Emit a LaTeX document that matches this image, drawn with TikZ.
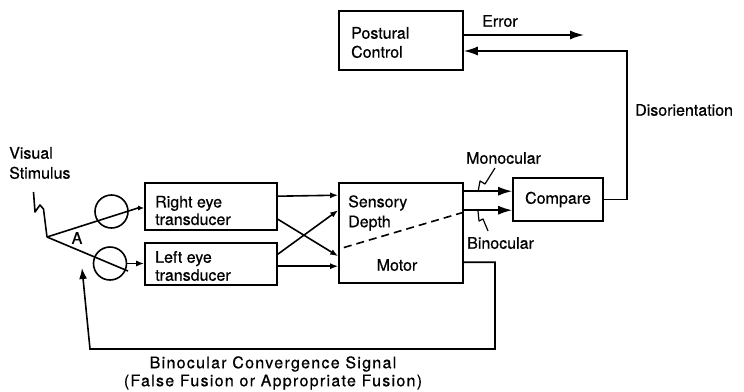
\documentclass[tikz,border=0pt]{standalone}
\usepackage{fontspec}
\setmainfont{TeX Gyre Heros}
\usetikzlibrary{arrows.meta,calc}
\newcommand{\diagfont}[2]{\fontsize{#1}{#2}\selectfont\addfontfeature{FakeBold=0.6}}
\begin{document}
\begin{tikzpicture}[x=1pt,y=-1pt,
  box/.style={draw,line width=1.6pt,inner sep=0pt,font=\diagfont{16}{19}},
  lbl/.style={font=\diagfont{16}{19},inner sep=0pt},
  wire/.style={line width=1.6pt},
  thinwire/.style={line width=1.2pt},
  bigarr/.style={wire,-{Latex[length=14pt,width=9pt]}},
  smallarr/.style={wire,-{Latex[length=8pt,width=6pt]}},
  tinyarr/.style={wire,-{Latex[length=6pt,width=5pt]}},
  eye/.style={draw,circle,line width=1.6pt,minimum size=33pt,inner sep=0pt}
]
\useasboundingbox (0,0) rectangle (744,391);

% boxes
\node[box,minimum width=124pt,minimum height=59pt] (post) at (401,40.5) {};
\node[lbl,anchor=west,align=left] (postT) at (351,42.5) {Postural\\Control};
\node[box,minimum width=90pt,minimum height=43pt] (cmp) at (558,199.5) {Compare};
\node[box,minimum width=124pt,minimum height=100pt] (sens) at (401,233) {};
\node[lbl,anchor=west,align=left,font=\diagfont{16}{20}] (sensT) at (348,213) {Sensory\\Depth};
\node[lbl] (motorT) at (397,265) {Motor};
\node[box,minimum width=132pt,minimum height=47pt] (rt) at (211,206.5) {};
\node[lbl,anchor=west,align=left,font=\diagfont{16}{17.5}] (rtT) at (155,210.5) {Right eye\\transducer};
\node[box,minimum width=132pt,minimum height=42pt] (lt) at (211,264) {};
\node[lbl,anchor=west,align=left,font=\diagfont{16}{18}] (ltT) at (155,266) {Left eye\\transducer};

% eyes
\node[eye] (reye) at (111.5,211.5) {};
\node[eye] (leye) at (110,263.5) {};

% labels
\node[lbl,anchor=west,align=left,font=\diagfont{16}{20}] (vis) at (9,163) {Visual\\Stimulus};
\node[lbl] (A) at (77,238) {A};
\node[lbl,anchor=west] (err) at (482,21) {Error};
\node[lbl,anchor=west] (dis) at (635,110) {Disorientation};
\node[lbl,anchor=west] (mono) at (466,158) {Monocular};
\node[lbl,anchor=west] (bino) at (467,243) {Binocular};
\node[lbl,align=center,font=\diagfont{16}{18}\addfontfeature{LetterSpace=8}] (conv) at (273,373)
  {Binocular Convergence Signal\\(False Fusion or Appropriate Fusion)};

% stimulus and optic lines
\coordinate (apex) at (47,237);
\coordinate (rdot) at (138,208);
\coordinate (lend) at (128,271);
\draw[wire,line join=round] (33.5,192) -- (35,212) -- (40,205) -- (43.5,209) -- (apex);
\draw[wire] (apex) -- (rdot);
\draw[tinyarr] (rdot) -- (rdot -| rt.west);
\draw[wire] (apex) -- (lend);
\draw[smallarr] (leye.east) -- (leye.east -| lt.west);

% transducers to sensory
\draw[smallarr] ($(rt.north east)+(0,14)$) -- ($(sens.north west)+(0,13)$);
\draw[smallarr] ($(rt.north east)+(0,37)$) -- ($(sens.north west)+(0,74)$);
\draw[smallarr] ($(lt.north east)+(0,12)$) -- ($(sens.north west)+(0,28)$);
\draw[smallarr] ($(lt.north east)+(0,24)$) -- ($(sens.north west)+(0,84)$);

% dashed divider
\draw[wire,dash pattern=on 8pt off 5pt] ($(sens.north east)+(0,30)$) -- ($(sens.north west)+(0,67)$);

% to compare
\draw[bigarr] ($(sens.north east)+(0,9)$) -- ($(cmp.north west)+(0,14)$);
\draw[bigarr] ($(sens.north east)+(0,28)$) -- ($(cmp.north west)+(0,33)$);
\draw[thinwire,line join=round] (478,192) -- (480,181) -- (485,184) -- (495,168);
\draw[thinwire,line join=round] (478,211) -- (479,221) -- (483,219) -- (488,231);

% motor feedback
\coordinate (mr) at (495,349);
\coordinate (ml) at (90,349);
\coordinate (tip) at (82,268);
\draw[wire,-{Latex[length=11pt,width=8pt]}] ($(sens.north east)+(0,80)$) -| (mr) -- (ml) -- (tip);

% error and disorientation
\coordinate (errEnd) at (584,35);
\draw[bigarr] (post.east |- errEnd) -- (errEnd);
\coordinate (dc) at (627,51);
\draw[bigarr] (cmp.east) -| (dc) -- (post.east |- dc);
\end{tikzpicture}
\end{document}
